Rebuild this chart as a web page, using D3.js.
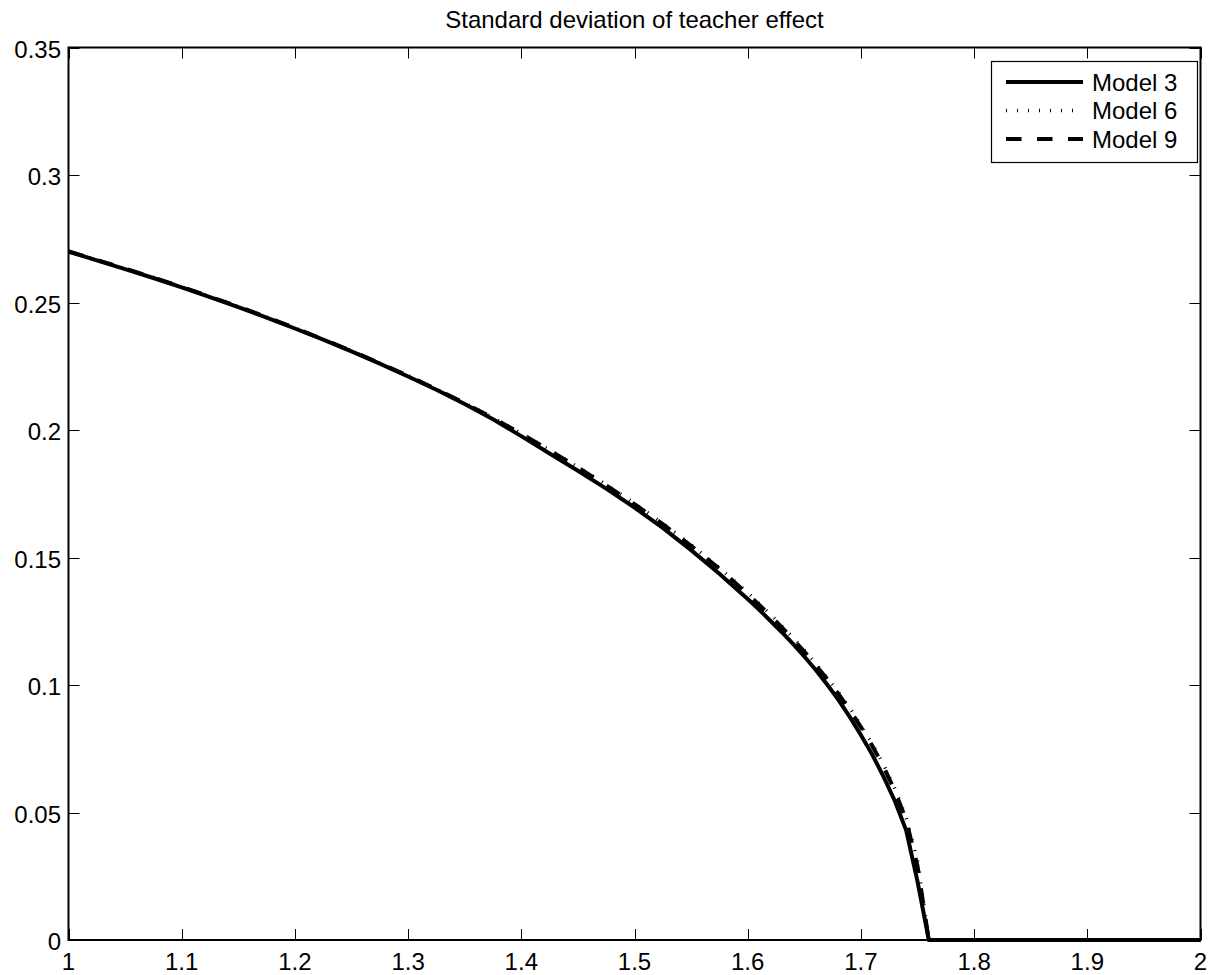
<!DOCTYPE html>
<html>
<head>
<meta charset="utf-8">
<script src="https://cdn.jsdelivr.net/npm/d3@7"></script>
<style>
  html, body { margin: 0; padding: 0; background: #fff; }
  svg { display: block; }
  text { font-family: "Liberation Sans", Arial, sans-serif; fill: #000; }
</style>
</head>
<body>
<svg id="chart" width="1211" height="975"></svg>
<script>
// ---- data ----
const title = "Standard deviation of teacher effect";
const xValues = [1.000, 1.025, 1.050, 1.075, 1.100, 1.125, 1.150, 1.175, 1.200, 1.225, 1.250, 1.275, 1.300,
                 1.325, 1.350, 1.375, 1.400, 1.425, 1.450, 1.475, 1.500, 1.525, 1.550, 1.575, 1.600,
                 1.61, 1.62, 1.63, 1.64, 1.65, 1.66, 1.67, 1.68, 1.69, 1.70, 1.71, 1.72, 1.73, 1.74, 1.75, 1.76,
                 1.80, 1.90, 2.00];
const model3 = [0.2700, 0.2665, 0.2631, 0.2596, 0.2559, 0.2521, 0.2482, 0.2441, 0.2398, 0.2354, 0.2308, 0.2260, 0.2210,
                0.2158, 0.2102, 0.2042, 0.1976, 0.1908, 0.1840, 0.1770, 0.1696, 0.1616, 0.1529, 0.1436, 0.1337,
                0.1296, 0.1252, 0.1208, 0.1161, 0.1112, 0.1060, 0.1003, 0.0943, 0.0876, 0.0804, 0.0727, 0.0641, 0.0545, 0.0430, 0.0230, 0.0000,
                0, 0, 0];
const model6 = [0.2700, 0.2667, 0.2633, 0.2598, 0.2561, 0.2523, 0.2484, 0.2443, 0.2400, 0.2356, 0.2310, 0.2262, 0.2213,
                0.2161, 0.2106, 0.2048, 0.1987, 0.1922, 0.1855, 0.1786, 0.1712, 0.1634, 0.1550, 0.1460, 0.1362,
                0.1320, 0.1277, 0.1232, 0.1186, 0.1137, 0.1085, 0.1030, 0.0972, 0.0910, 0.0842, 0.0770, 0.0688, 0.0594, 0.0480, 0.0310, 0.0000,
                0, 0, 0];
const model9 = [0.2700, 0.2667, 0.2633, 0.2598, 0.2561, 0.2523, 0.2484, 0.2443, 0.2400, 0.2356, 0.2310, 0.2262, 0.2212,
                0.2160, 0.2105, 0.2047, 0.1985, 0.1920, 0.1853, 0.1783, 0.1709, 0.1631, 0.1546, 0.1456, 0.1357,
                0.1315, 0.1272, 0.1227, 0.1180, 0.1131, 0.1079, 0.1024, 0.0966, 0.0903, 0.0835, 0.0762, 0.0680, 0.0585, 0.0470, 0.0290, 0.0000,
                0, 0, 0];
const seriesNames = ["Model 3", "Model 6", "Model 9"];
const xTicks = [1, 1.1, 1.2, 1.3, 1.4, 1.5, 1.6, 1.7, 1.8, 1.9, 2];
const xTickLabels = ["1", "1.1", "1.2", "1.3", "1.4", "1.5", "1.6", "1.7", "1.8", "1.9", "2"];
const yTicks = [0, 0.05, 0.1, 0.15, 0.2, 0.25, 0.3, 0.35];
const yTickLabels = ["0", "0.05", "0.1", "0.15", "0.2", "0.25", "0.3", "0.35"];

// ---- layout ----
const pLeft = 68.5, pRight = 1200.5, pTop = 47.5, pBottom = 940;
const svg = d3.select("#chart");

const x = d3.scaleLinear().domain([1, 2]).range([pLeft, pRight]);
const y = d3.scaleLinear().domain([0, 0.35]).range([pBottom, pTop]);

const styles = [
  { dash: null, width: 4 },
  { dash: "1,10", width: 3.5 },
  { dash: "15.5,15.5", width: 4 }
];

// ticks (inward, on all four sides)
const tickLen = 11;
const tg = svg.append("g").attr("stroke", "#000").attr("stroke-width", 1);
xTicks.forEach(t => {
  const px = Math.round(x(t)) + 0.5;
  tg.append("line").attr("x1", px).attr("x2", px).attr("y1", pBottom).attr("y2", pBottom - tickLen);
  tg.append("line").attr("x1", px).attr("x2", px).attr("y1", pTop).attr("y2", pTop + tickLen);
});
yTicks.forEach(t => {
  const py = Math.round(y(t)) + 0.5;
  tg.append("line").attr("x1", pLeft).attr("x2", pLeft + tickLen).attr("y1", py).attr("y2", py);
  tg.append("line").attr("x1", pRight).attr("x2", pRight - tickLen).attr("y1", py).attr("y2", py);
});

// box
svg.append("rect")
  .attr("x", pLeft).attr("y", pTop)
  .attr("width", pRight - pLeft).attr("height", pBottom - pTop)
  .attr("fill", "none").attr("stroke", "#000").attr("stroke-width", 2);

// tick labels
svg.append("g").selectAll("text").data(xTicks).join("text")
  .attr("x", d => x(d)).attr("y", pBottom + 30)
  .attr("text-anchor", "middle").attr("font-size", 24)
  .text((d, i) => xTickLabels[i]);
svg.append("g").selectAll("text").data(yTicks).join("text")
  .attr("x", pLeft - 7.5).attr("y", d => y(d) + 10)
  .attr("text-anchor", "end").attr("font-size", 24)
  .text((d, i) => yTickLabels[i]);

// title
svg.append("text")
  .attr("x", (pLeft + pRight) / 2).attr("y", 27.5)
  .attr("text-anchor", "middle").attr("font-size", 24)
  .text(title);

// lines
const line = d3.line().x(d => x(d[0])).y(d => y(d[1]));
[model3, model6, model9].forEach((vals, i) => {
  const pts = xValues.map((xv, j) => [xv, vals[j]]);
  svg.append("path")
    .attr("d", line(pts))
    .attr("fill", "none")
    .attr("stroke", "#000")
    .attr("stroke-width", styles[i].width)
    .attr("stroke-dasharray", styles[i].dash)
    .attr("stroke-linejoin", "round");
});

// legend
const lg = svg.append("g");
lg.append("rect")
  .attr("x", 991.5).attr("y", 61.5).attr("width", 206).attr("height", 101)
  .attr("fill", "#fff").attr("stroke", "#000").attr("stroke-width", 1.2);
const rowY = [82, 110.5, 139];
seriesNames.forEach((name, i) => {
  lg.append("line")
    .attr("x1", 1006).attr("x2", 1083)
    .attr("y1", rowY[i]).attr("y2", rowY[i])
    .attr("stroke", "#000")
    .attr("stroke-width", styles[i].width)
    .attr("stroke-dasharray", styles[i].dash);
  lg.append("text")
    .attr("x", 1092).attr("y", rowY[i] + 8.5)
    .attr("font-size", 24)
    .text(name);
});
</script>
</body>
</html>
